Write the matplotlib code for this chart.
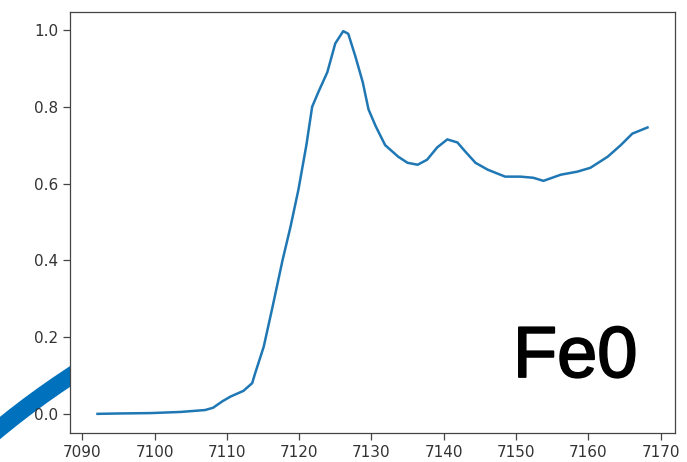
import matplotlib
matplotlib.use("Agg")
import matplotlib.pyplot as plt
import matplotlib.patheffects as pe
from matplotlib.patches import Arc

# Fe K-edge XANES spectrum (energy in eV, normalised absorption)
energy = [7092.1, 7095.0, 7099.4, 7103.6, 7107.0, 7108.1, 7109.4, 7110.5,
          7112.3, 7113.5, 7113.9, 7115.1, 7116.3, 7117.7, 7118.8, 7119.9,
          7121.0, 7121.8, 7122.7, 7123.9, 7125.0, 7126.1, 7126.8, 7127.8,
          7128.8, 7129.6, 7130.6, 7131.9, 7133.7, 7135.0, 7136.4, 7137.7,
          7139.1, 7140.5, 7141.9, 7143.0, 7144.4, 7146.1, 7148.5, 7150.6,
          7152.4, 7153.8, 7156.2, 7158.5, 7160.3, 7162.7, 7164.5, 7166.1,
          7168.2]
absorption = [0.000, 0.001, 0.002, 0.005, 0.010, 0.016, 0.033, 0.045,
              0.060, 0.080, 0.105, 0.175, 0.277, 0.400, 0.487, 0.584,
              0.700, 0.800, 0.840, 0.890, 0.965, 0.997, 0.990, 0.930,
              0.864, 0.793, 0.749, 0.700, 0.670, 0.654, 0.649, 0.662,
              0.694, 0.715, 0.707, 0.683, 0.654, 0.636, 0.618, 0.618,
              0.615, 0.607, 0.623, 0.631, 0.641, 0.670, 0.700, 0.730,
              0.746]
sample = "Fe0"

W, H = 687, 462
fig = plt.figure(figsize=(W / 100, H / 100), dpi=100)

# background layer in pixel units for the decorative ring
bg = fig.add_axes([0, 0, 1, 1], zorder=0)
bg.set_xlim(0, W)
bg.set_ylim(0, H)
bg.axis("off")
bg.add_patch(Arc((520, -600), 1640, 1640, theta1=110, theta2=150,
                 color="#0071bc", linewidth=12.5))

ax = fig.add_axes([70 / W, 29 / H, 605 / W, 421 / H], zorder=1)
ax.plot(energy, absorption, color="#1f77b4", linewidth=1.8)

ax.set_xticks(range(7090, 7171, 10))
ax.set_yticks([0.0, 0.2, 0.4, 0.6, 0.8, 1.0])
ax.tick_params(labelsize=11, length=5, width=0.9, color="#444444",
               labelcolor="#333333")
for s in ax.spines.values():
    s.set_color("#444444")
    s.set_linewidth(0.9)

fig.text(513 / W, 85 / H, sample, fontsize=52, family="Liberation Sans",
         color="black", ha="left", va="baseline", zorder=3,
         path_effects=[pe.withStroke(linewidth=1.3, foreground="black")])

fig.savefig("out.png", dpi=100)
